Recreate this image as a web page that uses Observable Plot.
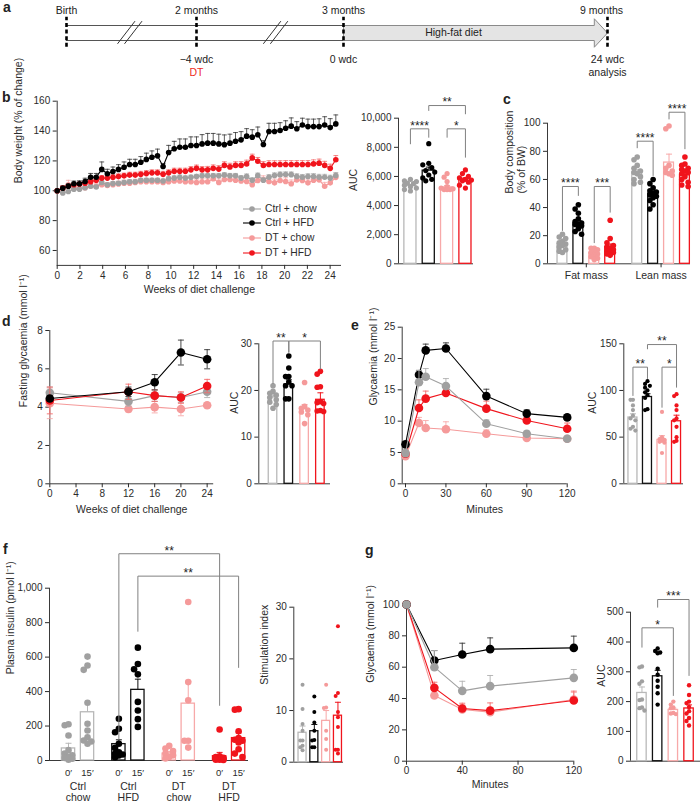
<!DOCTYPE html>
<html><head><meta charset="utf-8">
<script src="https://cdn.jsdelivr.net/npm/d3@7"></script>
<script src="https://cdn.jsdelivr.net/npm/@observablehq/plot@0.6"></script>
<style>
body{margin:0;background:#fff;}
#fig{position:relative;width:700px;height:810px;overflow:hidden;font-family:"Liberation Sans",Arial,Helvetica,sans-serif;color:#222;}
#fig svg{position:absolute;overflow:visible;}
.plbl{position:absolute;font-weight:bold;font-size:14px;line-height:14px;}
.leg{position:absolute;font-size:10.3px;line-height:14.7px;white-space:nowrap;color:#2b2b2b;}
#fig .leg svg{position:relative;vertical-align:middle;margin-right:4px;}
</style></head><body><div id="fig"></div><script>
// ================= DATA =================
const groupNames = ["Ctrl + chow", "Ctrl + HFD", "DT + chow", "DT + HFD"];

// a: timeline
const tlMonths = [0, 2, 3, 9];
const tlTop = ["Birth", "2 months", "3 months", "9 months"];
const tlBottom = ["", "−4 wdc", "0 wdc", "24 wdc"];
const tlSub = ["", "DT", "", "analysis"];
const tlBreaks = [1, 2.55];
const hfdStart = 3, hfdEnd = 9;
const hfdLabel = "High-fat diet";

// b: body weight (% of change)
const bWeeks = [0,0.49,0.98,1.47,1.96,2.45,2.94,3.43,3.92,4.41,
  4.9,5.39,5.88,6.37,6.86,7.35,7.84,8.33,8.82,9.31,
  9.8,10.29,10.78,11.27,11.76,12.25,12.74,13.23,13.72,14.21,
  14.7,15.19,15.68,16.17,16.66,17.15,17.64,18.13,18.62,19.11,
  19.6,20.09,20.58,21.07,21.56,22.05,22.54,23.03,23.52,24.01,
  24.5];
const bCtrlChow = [100,98.5,99.5,101,101,102,103,102.5,105.5,104,
  104.8,105,105.5,106,106,107,107,107,107,106.5,
  108,108.5,109,108.5,109,109.5,110,110,110,110,
  110.5,110,110,108.5,109.6,107,110.2,107,109.1,110.2,
  110.8,110.9,110.8,109.6,109.1,109.6,109.6,109.1,109.1,108.5,
  110.2];
const bCtrlChowErr = [0,0.8,0.8,1,1,1,1.1,1.1,1.2,1.2,
  1.2,1.2,1.3,1.3,1.3,1.3,1.4,1.4,1.4,1.4,
  1.4,1.5,1.5,1.5,1.5,1.5,1.6,1.6,1.6,1.6,
  1.6,1.6,1.6,1.7,1.7,1.7,1.7,1.7,1.7,1.8,
  1.8,1.8,1.8,1.8,1.8,1.8,1.9,1.9,1.9,1.9,
  2];
const bCtrlHFD = [100,101.7,103.1,104.7,104.7,106.2,109.1,109.1,114.3,111.4,
  112.9,114.3,115.8,117.6,117.6,119.1,121,122.5,123.4,116.3,
  125.6,128.1,129.2,129.2,130.3,130.3,131.4,131.9,131.9,131.4,
  130.9,131.9,133.2,134.1,136.6,135.9,137.5,131,139.7,139.7,
  140.4,141.9,143.3,141.5,144.1,143,143,143,144.1,142.3,
  144.8];
const bCtrlHFDErr = [0,1.5,1.5,1.8,2,2.2,2.5,2.5,5,3,
  3,3.2,3.5,3.5,3.5,3.8,4.2,4.2,4.5,2,
  4.8,5,5.5,5.5,5.8,5.8,6.2,6.5,6.5,6.5,
  6.5,6,5.8,5.5,5,5,5.2,2.5,5.5,5.5,
  5.2,5,5.5,4.8,4.5,5,5,5.2,5.5,6,
  6];
const bDTChow = [100,101,104,102,101.5,102,103,103,104,103.5,
  104,104.5,105,105,105.5,106,106,106,106,105.5,
  106,106.5,106.5,106,106,105.5,106,106,108,105.5,
  107.5,107.5,107,106.5,106.2,104,106.9,107.5,106.2,105.3,
  106.9,106.2,104.7,107.3,106.9,105.3,107,107.3,103,105.3,
  109];
const bDTChowErr = [0,1.5,3,1.8,1.8,1.8,2,2,2,2,
  2,2,2.2,2.2,2.2,2.2,2.2,2.2,2.2,2.2,
  2.3,2.3,2.3,2.3,2.3,2.3,2.3,2.4,2.4,2.4,
  2.4,2.4,2.4,2.5,2.5,2.5,2.5,2.5,2.5,2.5,
  2.5,2.5,2.5,2.5,2.6,2.6,2.6,2.6,2.6,2.7,
  2.8];
const bDTHFD = [100,102,103,104,104.5,105,106,107,108.5,108.5,
  109,109.5,110,110.5,110.5,111,111.5,112,112,111,
  112,113,113,113,114,115,114,114,115,114.5,
  117,116,117,117,118,122,119.8,117,117.6,117.6,
  117.6,117.6,117.6,117.6,117.6,117.6,118,118.5,117,115,
  120.8];
const bDTHFDErr = [0,1.2,1.2,1.3,1.3,1.5,1.5,1.5,1.7,1.7,
  1.8,1.8,1.8,1.9,1.9,2,2,2,2,2,
  2,2.1,2.1,2.1,2.2,2.2,2.2,2.3,2.3,2.3,
  2.4,2.4,2.4,2.5,2.5,2.5,2.5,2.5,2.5,2.5,
  2.5,2.6,2.6,2.6,2.6,2.6,2.7,2.7,2.7,2.8,
  2.8];

// b right: AUC of body weight
const bAucVals = [
  [5800,5700,5650,5550,5500,5400,5300,5200,5100,5000],
  [8250,6900,6800,6600,6400,6300,6100,5900,5800,5700],
  [6200,5950,5650,5300,5200,5150,5100,5100,5100],
  [6450,6200,6000,5900,5800,5750,5700,5600,5400,5200]];
const bAucMean = [5350, 6400, 5250, 5800];
const bAucErr = [90, 240, 130, 110];
const bAucSig = [
  {a:0, b:1, y:9270, ya:8240, yb:8690, label:"****"},
  {a:2, b:3, y:9270, ya:8690, yb:7320, label:"*"},
  {a:1, b:3, y:10870, ya:10530, yb:10300, label:"**"}];

// c: body composition
const cCategories = ["Fat mass", "Lean mass"];
const cVals = [
  [[21,19,18,16,15,14,13,12,10,9,8],[42,39,36,32,30,29,28,28,27,25,23,21],[11,11,10,9,8,7,6,5,4,3],[31,18,15,13,12,11,10,9,8,8,7,6]],
  [[76,74,70,68,66,65,64,62,60,58,57],[60,57,54,52,51,50,49,48,47,45,42,39],[98,96,70,68,66,65,64,63],[76,71,70,68,67,66,65,64,62,60,58,56,55]]];
const cMean = [[14, 29, 7.5, 12], [65, 50, 72, 63]];
const cErr = [[1.3, 1.8, 1, 2], [1.8, 1.7, 6, 1.7]];
const cSig = [
  {a:0, b:1, y:55, ya:23.7, yb:48.6, label:"****"},
  {a:2, b:3, y:55, ya:15, yb:36.7, label:"***"},
  {a:4.7, b:5.7, y:87.2, ya:82.5, yb:62.8, label:"****"},
  {a:6.7, b:7.7, y:107.8, ya:103, yb:81.8, label:"****"}];

// d: fasting glycaemia
const dWeeks = [0, 12, 16, 20, 24];
const dCtrlChow = [4.75, 4.3, 4.6, 4.5, 4.8], dCtrlChowErr = [0.3, 0.25, 0.3, 0.25, 0.3];
const dCtrlHFD = [4.45, 4.8, 5.3, 6.85, 6.5], dCtrlHFDErr = [0.15, 0.25, 0.4, 0.65, 0.5];
const dDTChow = [4.2, 3.9, 4.0, 3.9, 4.1], dDTChowErr = [0.8, 0.15, 0.3, 0.35, 0.1];
const dDTHFD = [4.35, 4.8, 4.6, 4.5, 5.1], dDTHFDErr = [0.7, 0.4, 0.3, 0.3, 0.35];
const dAucVals = [
  [21,19.8,19.4,19,18.5,18,17.5,17,16.2],
  [27.4,24.8,23,23,21.8,21,21,18.2,18.2],
  [21.7,16.6,16.2,15.8,15.4,14.8,12.9],
  [24.1,23.5,20.8,20.7,17.6,17.4,17.2,15.7,15.6,15.5]];
const dAucMean = [18.5, 21.3, 16.0, 18.0];
const dAucErr = [0.5, 1.0, 1.0, 1.5];
const dAucSig = [
  {a:0, b:1, y:30.6, ya:21.5, yb:28.2, label:"**"},
  {a:1, b:3, y:30.6, ya:28.2, yb:24.6, label:"*"}];

// e: glucose tolerance
const eMinutes = [0, 10, 15, 30, 60, 90, 120];
const eCtrlChow = [4.9, 16.2, 17.1, 15.6, 9.6, 8.0, 7.2], eCtrlChowErr = [0.3, 1.9, 1.3, 1.2, 0.6, 0.4, 0.3];
const eCtrlHFD = [6.3, 17.4, 21.3, 21.6, 14.0, 11.2, 10.6], eCtrlHFDErr = [0.3, 0.7, 1.0, 0.9, 1.1, 0.6, 0.4];
const eDTChow = [4.4, 9.7, 8.9, 8.7, 8.0, 7.3, 7.2], eDTChowErr = [0.3, 0.9, 1.2, 1.2, 0.6, 0.3, 0.3];
const eDTHFD = [4.8, 12.1, 13.6, 14.5, 12.0, 10.1, 8.8], eDTHFDErr = [0.3, 1.3, 1.2, 0.5, 1.2, 0.5, 0.9];
const eAucVals = [
  [90,90,84,79,73,70,68,61,59,57],
  [110,107,105,103,100,98,95,92,80,79],
  [77,50,48,47,46,45,44,33],
  [96,94,84,79,70,68,61,50,46,45]];
const eAucMean = [71, 93, 47, 67];
const eAucErr = [4, 3.5, 4.5, 6.5];
const eAucSig = [
  {a:0, b:1, y:125, ya:94.6, yb:112.8, label:"**"},
  {a:1, b:3, y:149.2, ya:144.6, yb:103.5, label:"**"},
  {a:2, b:3, y:125, ya:82, yb:105, label:"*"}];

// f: plasma insulin
const fGroupLabels = ["Ctrl\nchow", "Ctrl\nHFD", "DT\nchow", "DT\nHFD"];
const fTimeLabels = ["0′", "15′"];
const fVals = [
  [[210,205,145,60,40,30,22,15,10,5], [603,551,526,335,213,174,135,116,110,97]],
  [[242,184,164,97,73,48,39,35,29,19], [655,560,530,500,340,290,240,195]],
  [[85,70,55,40,30,20,12], [920,455,350,115,115,75]],
  [[180,25,20,15,12,10,8,5,5,3], [298,295,170,130,120,115,105,65,40,20]]];
const fMean = [[70, 280], [95, 410], [40, 330], [25, 130]];
const fErr = [[30, 58], [25, 62], [12, 128], [22, 30]];
const fSig = [
  {g1:1, t1:0, g2:3, t2:0, y:1200, ya:120, yb:320, label:"**"},
  {g1:1, t1:1, g2:3, t2:1, y:1070, ya:750, yb:540, label:"**"}];
const stimVals = [
  [15.0,10.3,7.4,6.1,4.2,4.2,3.2,2.9,2.3],
  [12.7,9.7,7.7,6.1,4.3,4.2,2.9,2.9],
  [15.0,10.6,10.5,6.1,4.5,2.4],
  [26.3,13.4,12.8,9.7,8.7,6.8,2.4,2.4,1.7]];
const stimMean = [5.7, 6.0, 8.0, 9.0];
const stimErr = [1.3, 1.3, 2.0, 2.6];

// g: insulin tolerance
const gMinutes = [0, 20, 40, 60, 120];
const gCtrlChow = [100, 60, 44.9, 47.9, 53.2], gCtrlChowErr = [0, 10.6, 6.1, 6.8, 5.3];
const gCtrlHFD = [100, 64.3, 68.1, 71.5, 72.3], gCtrlHFDErr = [0, 6.3, 7.2, 7.2, 7.5];
const gDTChow = [100, 41.9, 33, 31.3, 39.4], gDTChowErr = [0, 3, 3, 3, 4.5];
const gDTHFD = [100, 46.8, 33.6, 32.3, 38.7], gDTHFDErr = [0, 3.6, 3.4, 4.9, 6];
const gAucVals = [
  [318,315,268,260,207,205,180,178,170],
  [378,370,365,362,310,290,270,250,228,190],
  [200,190,180,178,162,160,158],
  [255,222,200,195,182,168,160,145,135,120]];
const gAucMean = [229, 285, 172, 177];
const gAucErr = [20, 20, 6, 12];
const gAucSig = [
  {a:0, b:2, y:447.6, ya:382.6, yb:220.5, label:"*"},
  {a:1, b:3, y:542.6, ya:516.8, yb:287.6, label:"***"}];

// ================= STYLE / HELPERS =================
const FONT = '"Liberation Sans", Arial, Helvetica, sans-serif';
const DOT = ["#a0a0a0", "#000000", "#f59a9a", "#f0141c"];
const BAR = ["#b8b8b8", "#111111", "#f7a9a9", "#f0141c"];
const ERR = ["#b0b0b0", "#333333", "#f7a9a9", "#f46a6a"];
const AX = "#3a3a3a";
const fig = document.getElementById("fig");
const capSym = {draw(ctx, size){ const w = Math.sqrt(size/Math.PI); ctx.moveTo(-w,0); ctx.lineTo(w,0); }};

function mount(box, fr, opts){
  const [L,T,W,H] = box;
  const p = Plot.plot(Object.assign({
    width: W, height: H,
    marginLeft: fr.x0-L, marginRight: L+W-fr.x1, marginTop: fr.y1-T, marginBottom: T+H-fr.y0,
    style: {fontFamily: FONT, fontSize: "10px", color: "#2b2b2b", background: "transparent", overflow: "visible"}
  }, opts));
  p.style.position = "absolute"; p.style.left = L+"px"; p.style.top = T+"px";
  fig.appendChild(p);
  return p;
}
const axisLines = (xd, yd) => [Plot.ruleX([xd[0]], {stroke: AX, strokeWidth: 1}), Plot.ruleY([yd[0]], {stroke: AX, strokeWidth: 1})];
const yAxis = (ticks, fmt) => Plot.axisY({ticks, tickSize: 4, tickPadding: 3, tickFormat: fmt, label: null, fontSize: 10});
const xAxis = (ticks) => Plot.axisX({ticks, tickSize: 4, tickPadding: 2, label: null, fontSize: 10});
const yLabel = (t, dx) => Plot.text([t], {text: d => d, frameAnchor: "left", dx, rotate: -90, fontSize: 10.5, lineHeight: 1.15});
const xLabel = (t, dy) => Plot.text([t], {text: d => d, frameAnchor: "bottom", dy, fontSize: 10.5});

function swarm(vals, yPx, r, maxHalf){
  const placed = [];
  const sorted = [...vals].sort((a,b) => b-a);
  const step = r*1.15, cands = [0];
  for (let k = 1; k*step <= maxHalf + 0.01; k++) cands.push(-k*step, k*step);
  for (const v of sorted){
    const py = yPx(v);
    let best = 0, bestD = -1;
    for (const c of cands){
      let md = Infinity;
      for (const p of placed) md = Math.min(md, Math.hypot(p.dx-c, p.py-py));
      if (md >= 1.7*r){ best = c; break; }
      if (md > bestD){ bestD = md; best = c; }
    }
    placed.push({dx: best, py, v});
  }
  return placed;
}

function bracketMarks(list, fs = 12){
  const m = [];
  for (const k of list){
    const pts = [{x:k.a, y:k.ya}, {x:k.a, y:k.y}, {x:k.b, y:k.y}, {x:k.b, y:k.yb}];
    m.push(Plot.line(pts, {x: "x", y: "y", stroke: "#808080", strokeWidth: 1}));
    m.push(Plot.text([k], {x: d => (d.a+d.b)/2, y: "y", text: "label", dy: -3, fontSize: fs, fill: "#222"}));
  }
  return m;
}

function barMarks(bars, fr, xdom, ydom, hw, r){
  const pxPerX = (fr.x1-fr.x0)/(xdom[1]-xdom[0]);
  const yPx = v => fr.y0 + (v-ydom[0])/(ydom[1]-ydom[0])*(fr.y1-fr.y0);
  const m = [];
  for (const b of bars){
    m.push(Plot.rect([b], {x1: d => d.x-hw, x2: d => d.x+hw, y1: 0, y2: "mean", fill: "white", stroke: BAR[b.g], strokeWidth: 1.3}));
    m.push(Plot.ruleX([b], {x: "x", y1: "mean", y2: d => d.mean+d.err, stroke: BAR[b.g], strokeWidth: 1}));
    m.push(Plot.dot([b], {x: "x", y: d => d.mean+d.err, symbol: capSym, r: 3, stroke: BAR[b.g], strokeWidth: 1, fill: "none"}));
  }
  for (const b of bars){
    const pts = swarm(b.vals, yPx, r, hw*pxPerX).map(p => ({x: b.x + p.dx/pxPerX, v: p.v}));
    m.push(Plot.dot(pts, {x: "x", y: "v", r, fill: DOT[b.g], stroke: "none"}));
  }
  return m;
}

function aucPanel(box, fr, xdom, ydom, yticks, yfmt, vals, means, errs, sig, hw, r, lab, labDx){
  const bars = vals.map((v,i) => ({g: i, x: i, vals: v, mean: means[i], err: errs[i]}));
  mount(box, fr, {
    x: {domain: xdom, axis: null}, y: {domain: ydom},
    marks: [...axisLines(xdom, ydom), yAxis(yticks, yfmt), ...barMarks(bars, fr, xdom, ydom, hw, r), ...bracketMarks(sig), yLabel(lab, labDx)]
  });
}

function linePanel(box, fr, xdom, ydom, xticks, yticks, xs, series, o){
  const marks = [...axisLines(xdom, ydom), yAxis(yticks, o.yfmt), xAxis(xticks)];
  for (const s of series){
    const rows = xs.map((x,i) => ({x, v: s.v[i], e: s.e[i]}));
    const er = rows.filter(d => d.e > 0);
    marks.push(Plot.ruleX(er, {x: "x", y1: d => o.two ? d.v-d.e : d.v, y2: d => d.v+d.e, stroke: ERR[s.g], strokeWidth: o.ew}));
    marks.push(Plot.dot(er, {x: "x", y: d => d.v+d.e, symbol: capSym, r: o.cap, stroke: ERR[s.g], strokeWidth: o.ew, fill: "none"}));
    if (o.two) marks.push(Plot.dot(er, {x: "x", y: d => d.v-d.e, symbol: capSym, r: o.cap, stroke: ERR[s.g], strokeWidth: o.ew, fill: "none"}));
    marks.push(Plot.line(rows, {x: "x", y: "v", stroke: DOT[s.g], strokeWidth: o.lw}));
    marks.push(Plot.dot(rows, {x: "x", y: "v", r: o.r, fill: DOT[s.g], stroke: "none"}));
  }
  marks.push(xLabel(o.xlab, o.xdy), yLabel(o.ylab, o.ydx));
  mount(box, fr, {x: {domain: xdom}, y: {domain: ydom}, marks});
}

// ================= PANEL a =================
{
  // schematic (non-uniform) month axis: piecewise mapping applied through the x scale's transform
  const sx = d3.scaleLinear(tlMonths, [66, 196, 343, 607]);
  const ms = tlMonths.map((m,i) => ({m, top: tlTop[i], bottom: tlBottom[i], sub: tlSub[i]}));
  const last = ms.length - 1;
  const arrow = [[hfdStart,0],[8.7,0],[8.7,-0.45],[hfdEnd,0.5],[8.7,1.45],[8.7,1],[hfdStart,1],[hfdStart,0]];
  const slashes = [];
  for (const b of tlBreaks){
    const px = sx(b);
    for (const off of [-14, -7]) slashes.push({x1: sx.invert(px+off), x2: sx.invert(px+off+17.5), y1: -0.22, y2: 1.29});
  }
  const p = Plot.plot({
    width: 700, height: 90,
    x: {transform: sx, domain: [0, 700], range: [0, 700], axis: null},
    y: {domain: [0, 1], range: [40, 25], axis: null},
    style: {fontFamily: FONT, fontSize: "10.5px", color: "#222", background: "transparent", overflow: "visible"},
    marks: [
      Plot.ruleY([0, 1], {x1: tlMonths[0], x2: hfdStart, stroke: "#555", strokeWidth: 1}),
      Plot.line(arrow, {x: d => d[0], y: d => d[1], fill: "#e4e4e4", stroke: "#8a8a8a", strokeWidth: 1}),
      Plot.link(slashes, {x1: "x1", x2: "x2", y1: "y1", y2: "y2", stroke: "#333", strokeWidth: 1}),
      Plot.ruleX(ms, {x: "m", y1: -0.45, y2: 1.55, stroke: "#000", strokeWidth: 2.6, strokeDasharray: "4,2.6"}),
      Plot.text(ms.slice(0, last), {x: "m", y: 2.0, text: "top", fontSize: 10.5}),
      Plot.text(ms.slice(last), {x: "m", y: 2.0, text: "top", fontSize: 10.5, dx: -6}),
      Plot.text(ms, {x: "m", y: -1.29, text: "bottom", fontSize: 10.5}),
      Plot.text(ms.filter(d => d.sub === "DT"), {x: "m", y: -2.11, text: "sub", fill: "#ee2a24", fontSize: 10.5}),
      Plot.text(ms.filter(d => d.sub !== "DT"), {x: "m", y: -2.11, text: "sub", fontSize: 10.5}),
      Plot.text([hfdLabel], {x: 5.5, y: 0.5, text: d => d, fontSize: 10.5})
    ]
  });
  p.style.position = "absolute"; p.style.left = "0px"; p.style.top = "0px";
  fig.appendChild(p);
}

// ================= PANEL b =================
linePanel([0, 90, 350, 225], {x0: 56.7, x1: 341, y0: 264.9, y1: 100.7}, [0, 25], [50, 160],
  [0,2,4,6,8,10,12,14,16,18,20,22,24], [60,80,100,120,140,160], bWeeks,
  [{g: 2, v: bDTChow, e: bDTChowErr}, {g: 0, v: bCtrlChow, e: bCtrlChowErr}, {g: 3, v: bDTHFD, e: bDTHFDErr}, {g: 1, v: bCtrlHFD, e: bCtrlHFDErr}],
  {r: 2.8, lw: 1.1, cap: 2.4, ew: 0.8, two: false, xlab: "Weeks of diet challenge", xdy: 28, ylab: "Body weight (% of change)", ydx: -39});
// legend
{
  const leg = document.createElement("div");
  leg.className = "leg"; leg.style.left = "243px"; leg.style.top = "201.5px";
  leg.innerHTML = groupNames.map((n,i) =>
    `<div><svg width="18" height="10"><line x1="0" x2="18" y1="5" y2="5" stroke="${DOT[i]}" stroke-width="1.1"/><circle cx="9" cy="5" r="2.8" fill="${DOT[i]}"/></svg>${n}</div>`).join("");
  fig.appendChild(leg);
}
aucPanel([340, 90, 140, 225], {x0: 398, x1: 473, y0: 263.3, y1: 117.7}, [-0.65, 3.44], [0, 10000],
  [0,2000,4000,6000,8000,10000], d3.format(","), bAucVals, bAucMean, bAucErr, bAucSig, 0.33, 2.6, "AUC", -45);

// ================= PANEL c =================
{
  const box = [490, 90, 210, 225], fr = {x0: 547, x1: 690, y0: 263.3, y1: 122.7};
  const xdom = [-0.94, 8.05], ydom = [0, 100];
  const bars = [];
  cVals.forEach((cat, ci) => cat.forEach((v, g) => bars.push({g, x: g + ci*4.7, vals: v, mean: cMean[ci][g], err: cErr[ci][g]})));
  const catPos = [1.5, 6.2];
  mount(box, fr, {
    x: {domain: xdom}, y: {domain: ydom},
    marks: [...axisLines(xdom, ydom), yAxis([0,20,40,60,80,100]),
      Plot.axisX({ticks: catPos, tickFormat: d => cCategories[catPos.indexOf(d)], tickSize: 4, tickPadding: 4, label: null, fontSize: 10.5}),
      ...barMarks(bars, fr, xdom, ydom, 0.31, 2.8), ...bracketMarks(cSig),
      yLabel("Body composition\n(% of BW)", -32.5)]
  });
}

// ================= PANEL d =================
linePanel([0, 315, 250, 225], {x0: 49.3, x1: 213.2, y0: 483.3, y1: 330}, [0, 25], [0, 8],
  [0,4,8,12,16,20,24], [0,2,4,6,8], dWeeks,
  [{g: 2, v: dDTChow, e: dDTChowErr}, {g: 0, v: dCtrlChow, e: dCtrlChowErr}, {g: 3, v: dDTHFD, e: dDTHFDErr}, {g: 1, v: dCtrlHFD, e: dCtrlHFDErr}],
  {r: 4.3, lw: 1.1, cap: 3, ew: 0.9, two: true, xlab: "Weeks of diet challenge", xdy: 28.7, ylab: "Fasting glycaemia (mmol l\u207B\u00B9)", ydx: -26.6});
aucPanel([220, 315, 130, 225], {x0: 258.3, x1: 330, y0: 483.3, y1: 343.3}, [-0.9, 3.64], [0, 30],
  [0,10,20,30], undefined, dAucVals, dAucMean, dAucErr, dAucSig, 0.27, 2.8, "AUC", -25);

// ================= PANEL e =================
linePanel([350, 315, 250, 225], {x0: 401.7, x1: 566.7, y0: 483.3, y1: 326.7}, [-2.45, 120], [0, 25],
  [0,30,60,90,120], [0,5,10,15,20,25], eMinutes,
  [{g: 2, v: eDTChow, e: eDTChowErr}, {g: 3, v: eDTHFD, e: eDTHFDErr}, {g: 1, v: eCtrlHFD, e: eCtrlHFDErr}, {g: 0, v: eCtrlChow, e: eCtrlChowErr}],
  {r: 4.3, lw: 1.1, cap: 3, ew: 0.9, two: false, xlab: "Minutes", xdy: 28.7, ylab: "Glycaemia (mmol l\u207B\u00B9)", ydx: -28.7});
aucPanel([580, 315, 120, 225], {x0: 623.3, x1: 683, y0: 483.3, y1: 343.3}, [-0.63, 3.48], [0, 150],
  [0,50,100,150], undefined, eAucVals, eAucMean, eAucErr, eAucSig, 0.31, 2.1, "AUC", -31.7);

// ================= PANEL f =================
{
  const box = [0, 540, 255, 270], fr = {x0: 49, x1: 248, y0: 760, y1: 587.7};
  const xdom = [-1.0, 9.47], ydom = [0, 1000];
  const pos = (g, t) => g*2.65 + t;
  const bars = [], ticks = [];
  fVals.forEach((gv, g) => gv.forEach((v, t) => {
    bars.push({g, x: pos(g,t), vals: v, mean: fMean[g][t], err: fErr[g][t]});
    ticks.push({x: pos(g,t), lab: fTimeLabels[t]});
  }));
  const groupsRows = fGroupLabels.map((n, g) => ({x: pos(g, 0.5), n}));
  const sig = fSig.map(s => ({a: pos(s.g1, s.t1), b: pos(s.g2, s.t2), y: s.y, ya: s.ya, yb: s.yb, label: s.label}));
  mount(box, fr, {
    x: {domain: xdom, axis: null}, y: {domain: ydom},
    marks: [...axisLines(xdom, ydom), yAxis([0,200,400,600,800,1000], d3.format(",")),
      ...barMarks(bars, fr, xdom, ydom, 0.35, 3.3), ...bracketMarks(sig),
      Plot.text(ticks, {x: "x", text: "lab", frameAnchor: "bottom", dy: 15.5, fontSize: 9.5}),
      Plot.text(groupsRows, {x: "x", text: "n", frameAnchor: "bottom", dy: 40, lineHeight: 1.0, fontSize: 10.5}),
      yLabel("Plasma insulin (pmol l\u207B\u00B9)", -39)]
  });
}
aucPanel([250, 540, 100, 270], {x0: 293.3, x1: 343, y0: 761.7, y1: 606.7}, [-0.74, 3.47], [0, 30],
  [0,10,20,30], undefined, stimVals, stimMean, stimErr, [], 0.34, 2.0, "Stimulation index", -30);

// ================= PANEL g =================
linePanel([350, 540, 260, 270], {x0: 406, x1: 573.3, y0: 760.7, y1: 604}, [0, 120], [0, 100],
  [0,40,80,120], [0,20,40,60,80,100], gMinutes,
  [{g: 2, v: gDTChow, e: gDTChowErr}, {g: 3, v: gDTHFD, e: gDTHFDErr}, {g: 1, v: gCtrlHFD, e: gCtrlHFDErr}, {g: 0, v: gCtrlChow, e: gCtrlChowErr}],
  {r: 4.3, lw: 1.1, cap: 3, ew: 0.9, two: false, xlab: "Minutes", xdy: 27, ylab: "Glycaemia (mmol l\u207B\u00B9)", ydx: -36});
aucPanel([595, 540, 105, 270], {x0: 630, x1: 700, y0: 760.7, y1: 611.7}, [-0.73, 3.73], [0, 500],
  [0,100,200,300,400,500], undefined, gAucVals, gAucMean, gAucErr, gAucSig, 0.3, 2.2, "AUC", -29);

// ================= panel letters =================
[["a",3,0],["b",2,90.2],["c",503,92.2],["d",2,314],["e",351,318],["f",3,541.5],["g",365,543]].forEach(([t,x,y]) => {
  const d = document.createElement("div"); d.className = "plbl"; d.textContent = t;
  d.style.left = x+"px"; d.style.top = y+"px"; fig.appendChild(d);
});
</script></body></html>
